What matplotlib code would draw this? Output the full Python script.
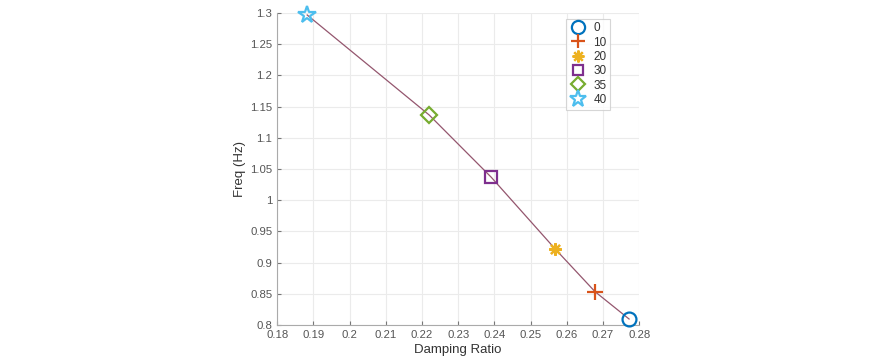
import numpy as np
import matplotlib.pyplot as plt

labels = ['0', '10', '20', '30', '35', '40']
damping = [0.2772, 0.2678, 0.2568, 0.2391, 0.2220, 0.1883]
freq = [0.8096, 0.8534, 0.9218, 1.0370, 1.1365, 1.2968]
markers = ['o', '+', (8, 2, 0), 's', 'D', '*']
colors = ['#0072BD', '#D95319', '#EDB120', '#7E2F8E', '#77AC30', '#4DBEEE']
sizes = [10, 11, 9, 8, 8, 13]

plt.rcParams['font.family'] = ['Liberation Sans', 'DejaVu Sans']

fig = plt.figure(figsize=(8.94, 3.6), dpi=100)
ax = fig.add_axes([0.31, 0.0972, 0.405, 0.8667])

ax.plot(damping, freq, '-', color='#94566e', lw=0.9, zorder=2)
for d, f, m, c, s, lab in zip(damping, freq, markers, colors, sizes, labels):
    ax.plot(d, f, linestyle='none', marker=m, markersize=s, markeredgewidth=1.6,
            markerfacecolor='none', markeredgecolor=c, label=lab, zorder=3,
            clip_on=False)

xt = np.round(np.arange(0.18, 0.2801, 0.01), 2)
yt = np.round(np.arange(0.8, 1.3001, 0.05), 2)
ax.set_xlim(0.18, 0.28)
ax.set_ylim(0.8, 1.3)
ax.set_xticks(xt)
ax.set_yticks(yt)
ax.set_xticklabels([f'{v:g}' for v in xt])
ax.set_yticklabels([f'{v:g}' for v in yt])
ax.grid(True, color='#ebebeb', lw=0.8)
ax.set_axisbelow(True)
ax.tick_params(direction='in', length=3, colors='#777777', labelsize=8.2, labelcolor='#555555')
for side in ('top', 'right'):
    ax.spines[side].set_visible(False)
for side in ('left', 'bottom'):
    ax.spines[side].set_color('#aaaaaa')
ax.set_xlabel('Damping Ratio', fontsize=9.5, color='#333333', labelpad=3)
ax.set_ylabel('Freq (Hz)', fontsize=9.5, color='#333333', labelpad=3)

leg = ax.legend(loc='upper left', bbox_to_anchor=(0.798, 0.982), fontsize=8.5, frameon=True,
                fancybox=False, edgecolor='#cccccc', borderpad=0.3, labelspacing=0.2,
                handlelength=1.4, handletextpad=0.6, markerscale=0.95, borderaxespad=0)
leg.get_frame().set_linewidth(0.8)
for t in leg.get_texts():
    t.set_color('#333333')

fig.savefig('out.png', dpi=100)
